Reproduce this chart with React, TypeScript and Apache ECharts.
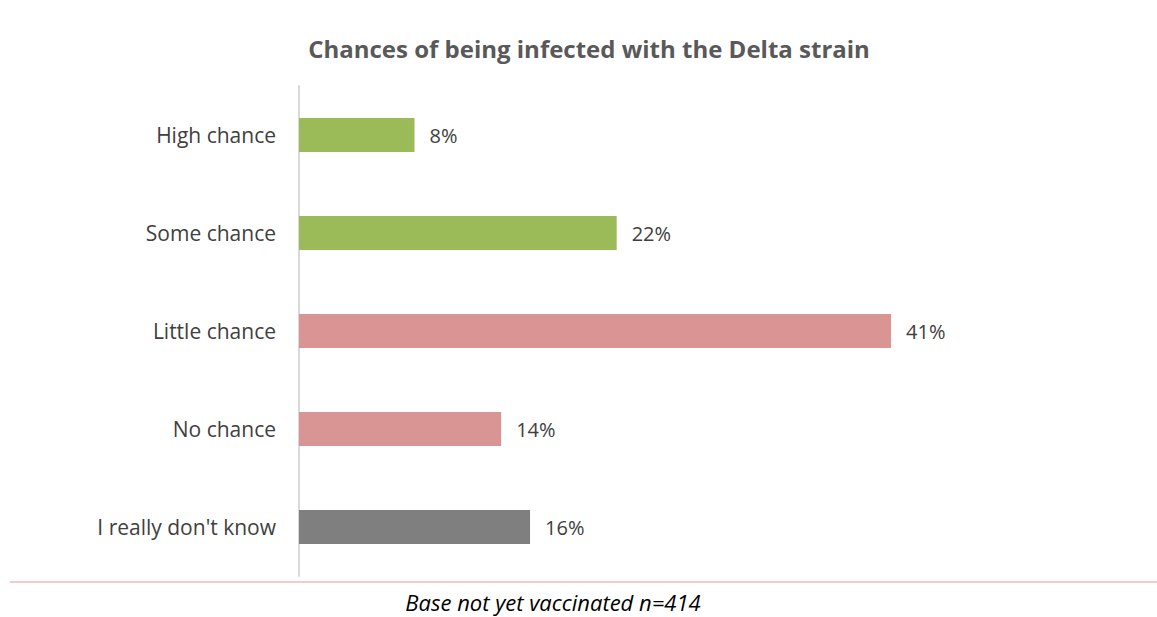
import React, { useEffect, useRef } from "react";
import * as echarts from "echarts";

// Survey answers, top to bottom
const categories = ["High chance", "Some chance", "Little chance", "No chance", "I really don't know"];
const shares = [8, 22, 41, 14, 16];
const barColors = ["#9bbb59", "#9bbb59", "#d99594", "#d99594", "#7f7f7f"];

const titleText = "Chances of being infected with the Delta strain";
const footnote = "Base not yet vaccinated n=414";

const FONT = "'Open Sans', 'Liberation Sans', sans-serif";

export default function App() {
  const ref = useRef<HTMLDivElement>(null);

  useEffect(() => {
    if (!ref.current) return;
    const chart = echarts.init(ref.current, null, { renderer: "svg" });
    chart.setOption({
      animation: false,
      backgroundColor: "#ffffff",
      title: {
        text: titleText,
        left: 584,
        textAlign: "center",
        top: 31,
        textStyle: { fontFamily: FONT, fontSize: 24, fontWeight: "bold", color: "#595959" },
      },
      grid: { left: 299, right: 136, top: 86, bottom: 41 },
      xAxis: {
        type: "value",
        min: 0,
        max: 50,
        show: false,
      },
      yAxis: {
        type: "category",
        inverse: true,
        data: categories,
        axisLine: { show: true, lineStyle: { color: "#d9d9d9", width: 2 } },
        axisTick: { show: false },
        axisLabel: {
          margin: 23,
          fontFamily: FONT,
          fontSize: 21,
          color: "#404040",
        },
      },
      series: [
        {
          type: "bar",
          barWidth: 34,
          data: shares.map((v, i) => ({ value: v, itemStyle: { color: barColors[i] } })),
          label: {
            show: true,
            position: "right",
            distance: 15,
            formatter: "{c}%",
            fontFamily: FONT,
            fontSize: 20,
            color: "#404040",
          },
        },
      ],
      graphic: [
        {
          type: "line",
          shape: { x1: 10, y1: 582, x2: 1157, y2: 582 },
          style: { stroke: "#e39a9a", lineWidth: 1 },
        },
        {
          type: "text",
          x: 553,
          y: 602,
          style: {
            text: footnote,
            fontFamily: FONT,
            fontSize: 22,
            fontStyle: "italic",
            fill: "#000000",
            textAlign: "center",
            textVerticalAlign: "middle",
          },
        },
      ],
    });
    return () => chart.dispose();
  }, []);

  return (
    <div
      ref={ref}
      style={{ position: "absolute", left: 0, top: 0, width: 1157, height: 617 }}
    />
  );
}
